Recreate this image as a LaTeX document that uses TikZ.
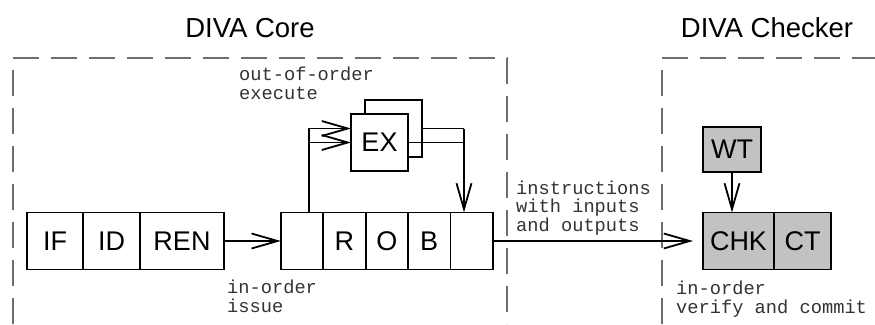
\documentclass[tikz,border=0pt]{standalone}
\usepackage{fontspec}
\setmainfont{Liberation Sans}
\newfontfamily\monofont{Liberation Mono}
\usepackage{xcolor}
\usepackage{tikz}
\definecolor{chkgray}{RGB}{194,194,194}
\definecolor{dashgray}{RGB}{110,110,110}
\usetikzlibrary{arrows.meta,positioning}

\begin{document}
\begin{tikzpicture}[
    x=1pt, y=-1pt,
    box/.style={rectangle, draw=black, line width=1.8pt, fill=white, minimum width=57pt, minimum height=57pt, inner sep=0pt, outer sep=0pt, font=\fontsize{27}{27}\selectfont},
    gbox/.style={box, fill=chkgray},
    region/.style={draw=dashgray, line width=1.8pt, dash pattern=on 26pt off 12pt},
    note/.style={font=\monofont\fontsize{18.7}{18.5}\selectfont, text=black!80, align=left, inner sep=0pt, anchor=base west},
    title/.style={font=\fontsize{27.5}{27.5}\selectfont, inner sep=0pt, anchor=base},
    flow/.style={line width=1.8pt, -{Straight Barb[length=26pt,width=15pt]}}
]
\useasboundingbox (0,0) rectangle (875,324);

\draw[region] (13,324) -- (13,58) -- (507,58) -- (507,324);
\draw[region] (662,324) -- (662,58) -- (880,58);

\node[title] (core) at (250,37) {DIVA Core};
\node[title] (checker) at (767,37) {DIVA Checker};

\node[box, minimum width=56pt] (if) at (55,241) {IF};
\node[box, right=0pt of if] (id) {ID};
\node[box, minimum width=84pt, right=0pt of id] (ren) {REN};

\node[box, minimum width=42.4pt] (rob1) at (302,241) {};
\node[box, minimum width=42.4pt, right=0pt of rob1] (robr) {R};
\node[box, minimum width=42.4pt, right=0pt of robr] (robo) {O};
\node[box, minimum width=42.4pt, right=0pt of robo] (robb) {B};
\node[box, minimum width=42.4pt, right=0pt of robb] (rob5) {};

\node[box] (exb) at (393.5,128.5) {};
\node[box] (exf) at (379.5,142.5) {EX};

\node[gbox, minimum width=71pt] (chk) at (738.5,241) {CHK};
\node[gbox, right=0pt of chk] (ct) {CT};
\node[gbox, minimum width=58pt, minimum height=45pt] (wt) at (732,149.5) {WT};

\coordinate (split) at (309,128.5);
\coordinate (merge) at (464,128.5);

\draw[flow] (ren) -- (rob1);
\draw[flow] (split |- rob1.north) -- (split) -- (exf.west |- split);
\draw[flow] (split |- exf.west) -- (exf.west);
\draw[line width=1.8pt] (exb.east) -- (merge);
\draw[line width=1.8pt] (exf.east) -- (merge |- exf.east);
\draw[flow] (merge) -- (merge |- rob5.north);
\draw[flow, shorten >=10pt] (rob5) -- (chk);
\draw[flow] (wt) -- (wt |- chk.north);

\node[note] (execnote) at (239,99) {out-of-order\\execute};
\node[note] (issuenote) at (227,312) {in-order\\issue};
\node[note] (instrnote) at (516,231) {instructions\\with inputs\\and outputs};
\node[note] (verifynote) at (676,313) {in-order\\verify and commit};
\end{tikzpicture}
\end{document}
